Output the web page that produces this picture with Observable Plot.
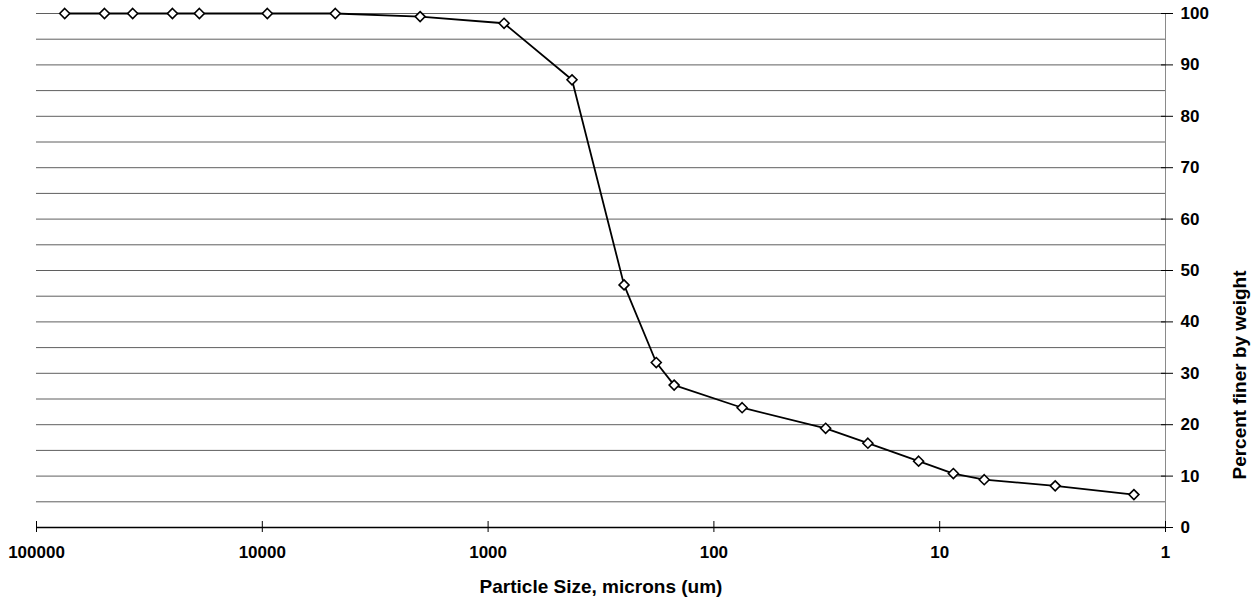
<!DOCTYPE html>
<html>
<head>
<meta charset="utf-8">
<script src="https://cdn.jsdelivr.net/npm/d3@7"></script>
<script src="https://cdn.jsdelivr.net/npm/@observablehq/plot@0.6"></script>
<style>
  html, body { margin: 0; padding: 0; background: #fff; }
</style>
</head>
<body>
<div id="chart"></div>
<script>
// Particle size (microns) and percent finer by weight
const particleSize = [75000, 50000, 37500, 25000, 19000, 9500, 4750, 2000, 850, 425, 250, 180, 150, 75, 32, 20.8, 12.4, 8.7, 6.35, 3.08, 1.38];
const percentFiner = [100, 100, 100, 100, 100, 100, 100, 99.4, 98.1, 87.1, 47.2, 32.1, 27.7, 23.3, 19.3, 16.4, 12.9, 10.5, 9.3, 8.1, 6.4];

const xTicks = [100000, 10000, 1000, 100, 10, 1];
const yTicks = [0, 10, 20, 30, 40, 50, 60, 70, 80, 90, 100];
const yGrid = [5, 10, 15, 20, 25, 30, 35, 40, 45, 50, 55, 60, 65, 70, 75, 80, 85, 90, 95, 100];

const xTitle = "Particle Size, microns (um)";
const yTitle = "Percent finer by weight";

const data = particleSize.map((s, i) => ({size: s, pct: percentFiner[i]}));

const chart = Plot.plot({
  width: 1254,
  height: 600,
  marginLeft: 36,
  marginRight: 89,
  marginTop: 13,
  marginBottom: 73,
  style: {fontFamily: "'Liberation Sans', Arial, sans-serif", fontWeight: "bold", fontSize: "17px", color: "#000", background: "#fff"},
  x: {type: "log", domain: [100000, 1]},
  y: {domain: [0, 100]},
  marks: [
    Plot.gridY(yGrid, {stroke: "#5f5f5f", strokeOpacity: 1}),
    Plot.ruleX([1], {stroke: "#8a8a8a", insetBottom: -5}),
    Plot.ruleY([0], {stroke: "#000", strokeWidth: 1.5}),
    Plot.axisX({ticks: xTicks, tickSize: 11, dy: -6, fill: "none", label: null, stroke: "#000"}),
    Plot.axisX({ticks: xTicks, tickSize: 0, tickPadding: 18, tickFormat: d => String(d), label: null, fontSize: 17}),
    Plot.axisY({ticks: yTicks, anchor: "right", tickSize: 12, dx: -5, fill: "none", label: null, stroke: "#000"}),
    Plot.axisY({ticks: yTicks, anchor: "right", tickSize: 0, tickPadding: 15, label: null, fontSize: 17}),
    Plot.line(data, {x: "size", y: "pct", stroke: "#000", strokeWidth: 1.8}),
    Plot.dot(data, {x: "size", y: "pct", symbol: "diamond2", r: 4.5, fill: "#fff", stroke: "#000", strokeWidth: 1.6}),
    Plot.text([xTitle], {frameAnchor: "bottom", dy: 65, fontSize: 19, fontWeight: "bold"}),
    Plot.text([yTitle], {frameAnchor: "right", dx: 74, rotate: -90, fontSize: 19, fontWeight: "bold"})
  ]
});

document.getElementById("chart").appendChild(chart);
</script>
</body>
</html>
